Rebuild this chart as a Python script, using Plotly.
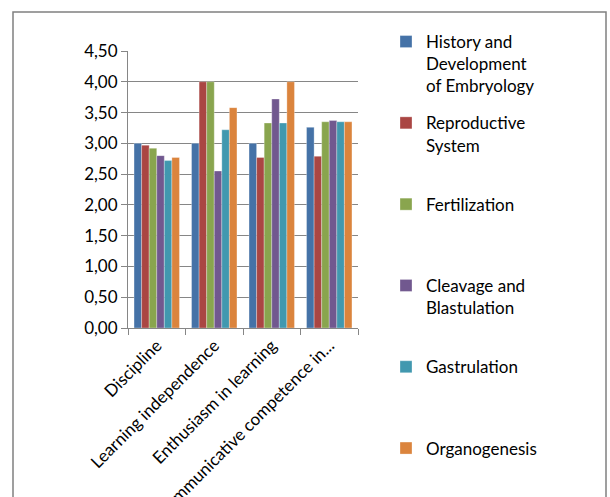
import plotly.graph_objects as go

categories = ["Discipline", "Learning independence", "Enthusiasm in learning",
              "Communicative competence in..."]
series_names = ["History and<br>Development<br>of Embryology",
                "Reproductive<br>System<br> ",
                "Fertilization<br> <br> ",
                "Cleavage and<br>Blastulation<br> ",
                "Gastrulation<br> <br> ",
                "Organogenesis<br> <br> "]
history = [3.00, 3.00, 3.00, 3.26]
reproductive = [2.97, 4.00, 2.77, 2.79]
fertilization = [2.92, 4.00, 3.33, 3.35]
cleavage = [2.80, 2.55, 3.72, 3.37]
gastrulation = [2.72, 3.22, 3.33, 3.35]
organogenesis = [2.77, 3.58, 4.00, 3.35]
tick_vals = [0, 0.5, 1, 1.5, 2, 2.5, 3, 3.5, 4, 4.5]
tick_text = ["0,00", "0,50", "1,00", "1,50", "2,00", "2,50", "3,00", "3,50", "4,00", "4,50"]

colors = ["#4572A7", "#AA4643", "#89A54E", "#71588F", "#4198AF", "#DB843D"]
values = [history, reproductive, fertilization, cleavage, gastrulation, organogenesis]

FONT = "Lato"
W, H = 610, 497
L, R, T, B = 128, 358, 51, 328

fig = go.Figure()
for i, (name, vals) in enumerate(zip(series_names, values)):
    fig.add_trace(go.Bar(x=categories, y=vals, name=name, legendgroup=f"g{i}",
                         marker=dict(color=colors[i], line=dict(width=0.5, color="rgba(255,255,255,0.6)"))))

def px_x(p):
    return (p - L) / (R - L)

def px_y(p):
    return (B - p) / (B - T)

fig.add_shape(type="rect", xref="paper", yref="paper",
              x0=px_x(13), x1=px_x(606), y0=px_y(520), y1=px_y(12),
              line=dict(color="#808080", width=1.5), fillcolor="rgba(0,0,0,0)", layer="below")

fig.update_layout(
    width=W, height=H,
    margin=dict(l=L, r=W - R, t=T, b=H - B, autoexpand=False),
    paper_bgcolor="white", plot_bgcolor="white",
    font=dict(family=FONT, size=17, color="black"),
    barmode="group", bargap=0.21, bargroupgap=0,
    showlegend=True,
    legend=dict(x=px_x(386), y=1 - 24 / H, yref="container", xanchor="left", yanchor="top",
                valign="top", traceorder="grouped", tracegroupgap=12, maxheight=1,
                font=dict(family=FONT, size=17, color="black"),
                bgcolor="rgba(0,0,0,0)"),
)
fig.update_yaxes(range=[0, 4.5], tickvals=tick_vals, ticktext=tick_text,
                 showgrid=True, gridcolor="#868686", gridwidth=1,
                 showline=True, linecolor="#868686", linewidth=1,
                 ticks="outside", ticklen=6, tickcolor="#868686",
                 zeroline=False, automargin=False)
fig.update_xaxes(showline=True, linecolor="#868686", linewidth=1,
                 ticks="outside", ticklen=6, tickcolor="#868686",
                 tickson="boundaries", tickangle=-45, automargin=False)

fig.write_html("out.html", config={"displayModeBar": False},
               post_script="document.body.style.margin='0';")
